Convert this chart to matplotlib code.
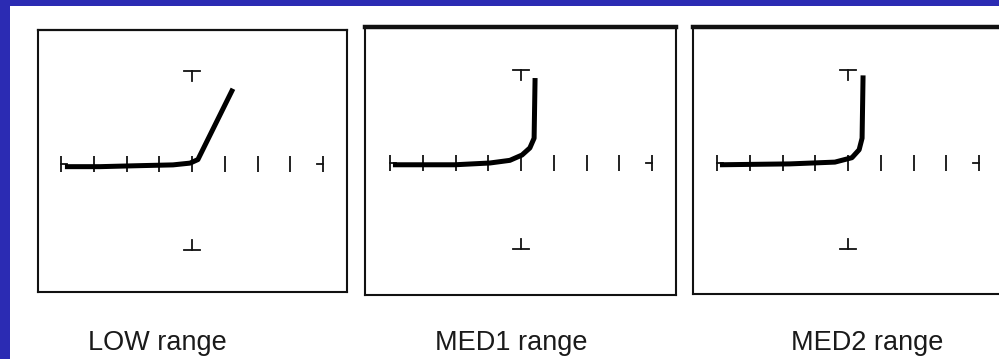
import matplotlib.pyplot as plt
import numpy as np

# curve samples (x in tick units, y in marker units)
low_x = [-3.88, -2.81, -1.74, -0.58, -0.06, 0.18, 1.25]
low_y = [-0.03, -0.03, -0.02, -0.01, 0.01, 0.05, 0.85]

med1_x = [-3.91, -2.02, -0.95, -0.34, 0.03, 0.27, 0.40, 0.43]
med1_y = [-0.02, -0.02, 0.00, 0.03, 0.09, 0.17, 0.28, 0.96]

med2_x = [-3.91, -1.77, -0.40, 0.12, 0.34, 0.43, 0.46]
med2_y = [-0.02, -0.01, 0.01, 0.06, 0.15, 0.28, 0.99]

labels = ["LOW range", "MED1 range", "MED2 range"]
tick_pos = [-4, -3, -2, -1, 0, 1, 2, 3, 4]
marker_top = 1.05
marker_bottom = -0.97

W, H = 999, 359

# pixel boxes of each panel: left, right, top, bottom, centre x, axis y
panels = [
  {"box": (38, 347, 30, 292), "cx": 192, "ay": 164, "top_lw": 1.6, "x": low_x, "y": low_y, "lab_x": 157},
  {"box": (365, 676, 27, 295), "cx": 521, "ay": 163, "top_lw": 3.2, "x": med1_x, "y": med1_y, "lab_x": 511},
  {"box": (693, 1004, 27, 294), "cx": 848, "ay": 163, "top_lw": 3.2, "x": med2_x, "y": med2_y, "lab_x": 867},
]
sx = 32.75  # px per tick
sy = 88.5   # px per marker unit

fig = plt.figure(figsize=(W / 100.0, H / 100.0), dpi=100)
fig.patch.set_facecolor('#2b2bb3')
fig.patches.append(plt.Rectangle((10.0 / W, 0), 1, (H - 6.0) / H, transform=fig.transFigure,
                                 facecolor='white', edgecolor='none', zorder=-5))

ink = '#111111'
for i, p in enumerate(panels):
  l, r, t, b = p["box"]
  ax = fig.add_axes([l / float(W), 1 - b / float(H), (r - l) / float(W), (b - t) / float(H)])
  ax.set_xlim(-(p["cx"] - l) / sx, (r - p["cx"]) / sx)
  ax.set_ylim(-(b - p["ay"]) / sy, (p["ay"] - t) / sy)
  ax.set_xticks([])
  ax.set_yticks([])
  for s in ['left', 'right', 'bottom']:
    ax.spines[s].set_linewidth(1.5)
    ax.spines[s].set_color(ink)
  ax.spines['top'].set_linewidth(p["top_lw"])
  ax.spines['top'].set_color(ink)

  # scope graticule: small ticks along the horizontal axis
  for xt in tick_pos:
    ax.plot([xt, xt], [-0.085, 0.085], color=ink, lw=1.3, solid_capstyle='butt')
  ax.plot([tick_pos[0], tick_pos[0] + 0.18], [0, 0], color=ink, lw=1.3)
  ax.plot([tick_pos[-1] - 0.18, tick_pos[-1]], [0, 0], color=ink, lw=1.3)
  # T marks above and below
  ax.plot([-0.25, 0.25], [marker_top, marker_top], color=ink, lw=1.3)
  ax.plot([0, 0], [marker_top, marker_top - 0.11], color=ink, lw=1.3)
  ax.plot([-0.25, 0.25], [marker_bottom, marker_bottom], color=ink, lw=1.3)
  ax.plot([0, 0], [marker_bottom, marker_bottom + 0.11], color=ink, lw=1.3)

  ax.plot(p["x"], p["y"], color='black', lw=3.6, solid_joinstyle='round', solid_capstyle='butt')

  fig.text(p["lab_x"] / float(W), 1 - 343.0 / H, labels[i], ha='center', va='center',
           fontsize=19.5, color='#1a1a1a', family='Liberation Sans')

fig.savefig("out.png", dpi=100, facecolor=fig.get_facecolor())
